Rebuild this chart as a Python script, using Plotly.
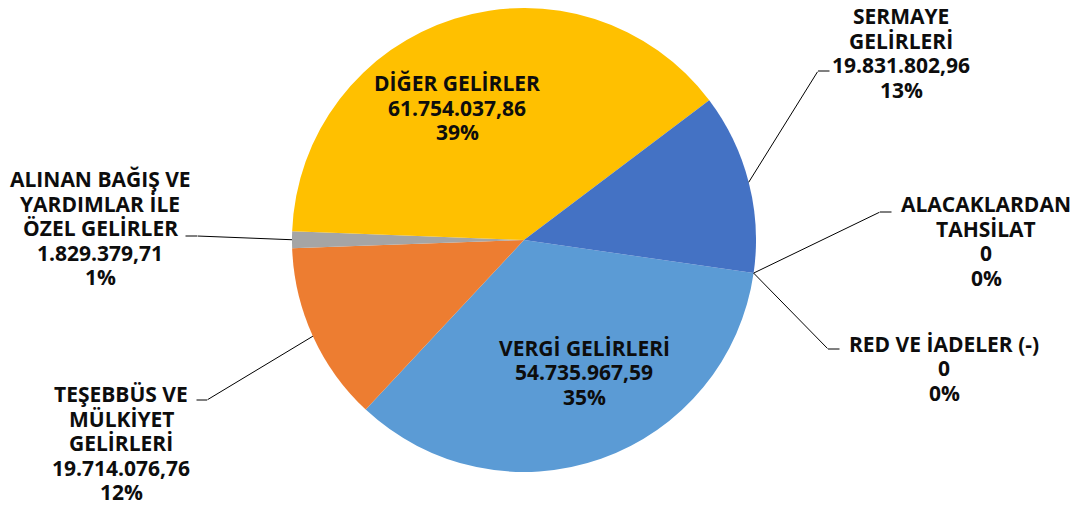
import math
import plotly.graph_objects as go

# Gelir kalemleri (Excel sırası, saat yönünde)
labels = [
    "VERGİ GELİRLERİ",
    "TEŞEBBÜS VE MÜLKİYET GELİRLERİ",
    "ALINAN BAĞIŞ VE YARDIMLAR İLE ÖZEL GELİRLER",
    "DİĞER GELİRLER",
    "SERMAYE GELİRLERİ",
    "ALACAKLARDAN TAHSİLAT",
    "RED VE İADELER (-)",
]
label_lines = [
    ["VERGİ GELİRLERİ"],
    ["TEŞEBBÜS VE", "MÜLKİYET", "GELİRLERİ"],
    ["ALINAN BAĞIŞ VE", "YARDIMLAR İLE", "ÖZEL GELİRLER"],
    ["DİĞER GELİRLER"],
    ["SERMAYE", "GELİRLERİ"],
    ["ALACAKLARDAN", "TAHSİLAT"],
    ["RED VE İADELER (-)"],
]
values = [54735967.59, 19714076.76, 1829379.71, 61754037.86, 19831802.96, 0, 0]
colors = ["#5B9BD5", "#ED7D31", "#A5A5A5", "#FFC000", "#4472C4", "#70AD47", "#264478"]

# page is 1080x507 but the html body adds an 8px margin
OFF = 8
W, H = 1080 - OFF, 507 - OFF
CX, CY, R = 524, 240, 232        # pie centre / radius in page pixels
ROTATION = 98.2
FONT = "Open Sans"
FSIZE = 21
LINE_H = 24.5
TXT = "#0d0d0d"

total = sum(values)


def tr_num(v):
    if v == 0:
        return "0"
    s = f"{v:,.2f}"
    return s.replace(",", "X").replace(".", ",").replace("X", ".")


def paper(x, y):
    return (x - OFF) / W, 1 - (y - OFF) / H


def clamp(v):
    return min(1.0, max(0.0, v))


pcts = [round(v / total * 100) for v in values]

# slice mid angles -> edge points for leader lines
mids = []
acc = 0
for v in values:
    mids.append(ROTATION + 360 * (acc + v / 2) / total)
    acc += v
edge = [(CX + R * math.sin(math.radians(a)), CY - R * math.cos(math.radians(a))) for a in mids]

# label centres (page px) and leader elbows
label_pos = [(584, 372), (121, 443), (100, 228), (457, 108), (901, 53), (986, 241), (944, 368)]
leaders = {
    1: [(207, 400), (196, 400)],
    2: [(197, 236), (185, 236)],
    4: [(818, 71), (830, 71)],
    5: [(880, 212), (892, 212)],
    6: [(828, 349), (840, 349)],
}

x0d, y1d = paper(CX - R, CY - R)
x1d, y0d = paper(CX + R, CY + R)

fig = go.Figure(go.Pie(
    labels=labels,
    values=values,
    marker=dict(colors=colors, line=dict(width=0)),
    sort=False,
    direction="clockwise",
    rotation=ROTATION,
    textinfo="none",
    showlegend=False,
    domain=dict(x=[clamp(x0d), clamp(x1d)], y=[clamp(y0d), clamp(y1d)]),
))

annotations = []
for i, (lx, ly) in enumerate(label_pos):
    lines = label_lines[i] + [tr_num(values[i]), f"{pcts[i]}%"]
    n = len(lines)
    for k, line in enumerate(lines):
        x, y = paper(lx, ly + (k - (n - 1) / 2) * LINE_H)
        annotations.append(dict(
            x=x, y=y, xref="paper", yref="paper", showarrow=False,
            text="<b>" + line + "</b>",
            xanchor="center", yanchor="middle",
            font=dict(family=FONT, size=FSIZE, color=TXT),
        ))

for i, pts in leaders.items():
    path = [edge[i]] + pts
    for (xa, ya), (xb, yb) in zip(path[:-1], path[1:]):
        hx, hy = paper(xa, ya)
        annotations.append(dict(
            x=hx, y=hy, xref="paper", yref="paper", text=" ",
            showarrow=True, arrowhead=0, arrowwidth=1, arrowcolor="#000000",
            ax=xb - xa, ay=yb - ya, standoff=0, startstandoff=0,
            font=dict(size=1), borderpad=0,
        ))

fig.update_layout(
    width=W, height=H,
    margin=dict(l=0, r=0, t=0, b=0),
    paper_bgcolor="white",
    plot_bgcolor="white",
    annotations=annotations,
)

fig.write_html("out.html")
